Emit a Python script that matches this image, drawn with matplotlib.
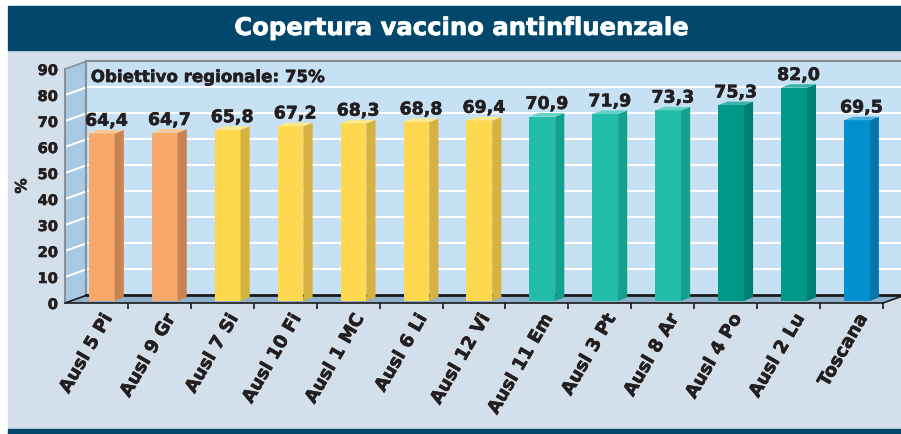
import numpy as np
import matplotlib
matplotlib.use('Agg')
import matplotlib.pyplot as plt
import matplotlib.patheffects as pe
from matplotlib.patches import Rectangle, Polygon

# dati
labels = ['Ausl 5 Pi', 'Ausl 9 Gr', 'Ausl 7 Si', 'Ausl 10 Fi', 'Ausl 1 MC', 'Ausl 6 Li',
          'Ausl 12 Vi', 'Ausl 11 Em', 'Ausl 3 Pt', 'Ausl 8 Ar', 'Ausl 4 Po', 'Ausl 2 Lu', 'Toscana']
values = [64.4, 64.7, 65.8, 67.2, 68.3, 68.8, 69.4, 70.9, 71.9, 73.3, 75.3, 82.0, 69.5]
groups = ['o', 'o', 'y', 'y', 'y', 'y', 'y', 't', 't', 't', 'd', 'd', 'b']
yticks = list(range(0, 100, 10))
title = 'Copertura vaccino antinfluenzale'
note = 'Obiettivo regionale: 75%'

# colori (fronte, lato, sopra)
palette = {
    'o': ('#f7a86b', '#c98452', '#fbc995'),
    'y': ('#fed94f', '#d6b340', '#fde78f'),
    't': ('#21bcaa', '#13a08f', '#66d2c5'),
    'd': ('#009889', '#007e74', '#3cb3a8'),
    'b': ('#0290d0', '#0276ad', '#45addf'),
}
plt.rcParams['font.family'] = ['DejaVu Sans']
TXT = '#231f20'
# tratto leggero per rendere il testo piu' pesante
heavy = [pe.withStroke(linewidth=0.4, foreground=TXT)]

W, H = 901, 434
fig = plt.figure(figsize=(W / 100, H / 100), dpi=100)
fig.patch.set_facecolor('white')

# sfondo pannello + bande scure
fig.patches.append(Rectangle((8 / W, 0), 1, (H - 50) / H, transform=fig.transFigure,
                             color='#d3dfea', zorder=-5))
fig.patches.append(Rectangle((8 / W, (H - 50) / H), 1, 44 / H, transform=fig.transFigure,
                             color='#02486c', zorder=-5))
fig.patches.append(Rectangle((8 / W, 0), 1, 5 / H, transform=fig.transFigure,
                             color='#02486c', zorder=-5))
fig.text(0.511, (H - 28) / H, title, color='white', fontsize=17.5, fontweight='bold',
         ha='center', va='center',
         path_effects=[pe.withStroke(linewidth=0.5, foreground='white')])

n = len(values)
ax = fig.add_axes([65 / W, 131 / H, 818 / W, 234 / H])
ax.set_xlim(-0.5, n - 0.5)
ax.set_ylim(0, 90)
ax.patch.set_alpha(0)

dx, dy = 0.335, 2.9   # profondita pareti
x0, x1 = -0.5, n - 0.5

# parete di fondo
ax.add_patch(Rectangle((x0 + dx, dy), n, 90, facecolor='#c6e0f4', edgecolor='none',
                       clip_on=False, zorder=1))
for v in yticks[1:-1]:
    ax.plot([x0 + dx, x1 + dx], [v + dy, v + dy], color='white', lw=1.5, clip_on=False, zorder=2)
    ax.plot([x0, x0 + dx], [v, v + dy], color='white', lw=1.5, clip_on=False, zorder=4)
ax.plot([x0 + dx, x1 + dx], [90 + dy, 90 + dy], color='#8a8f94', lw=1.5, clip_on=False, zorder=2)

# parete laterale
ax.add_patch(Polygon([(x0, 0), (x0 + dx, dy), (x0 + dx, 90 + dy), (x0, 90)],
                     facecolor='#a7c9e4', edgecolor='none', clip_on=False, zorder=3))
ax.plot([x0 + dx, x0 + dx], [dy, 90 + dy], color='#8a8f94', lw=1.5, clip_on=False, zorder=4)
ax.plot([x0, x0 + dx], [90, 90 + dy], color='#8a8f94', lw=1.2, clip_on=False, zorder=4)

# pavimento
ax.add_patch(Polygon([(x0, 0), (x1, 0), (x1 + dx, dy), (x0 + dx, dy)],
                     facecolor='#8fb0c9', edgecolor='none', clip_on=False, zorder=3))
ax.plot([x0 + dx, x1 + dx], [dy, dy], color='#1a1a1a', lw=2, clip_on=False, zorder=4)
ax.plot([x0, x0 + dx], [0, dy], color='#1a1a1a', lw=1.2, clip_on=False, zorder=4)
ax.plot([x1, x1 + dx], [0, dy], color='#1a1a1a', lw=1.2, clip_on=False, zorder=4)

# barre 3D
bw, bdx, bdy, by = 0.41, 0.145, 1.35, 0.8
for i, (v, g) in enumerate(zip(values, groups)):
    front, side, top = palette[g]
    xl = i - 0.12
    ax.add_patch(Rectangle((xl, by), bw, v, facecolor=front, edgecolor='none', zorder=5,
                           clip_on=False))
    ax.add_patch(Polygon([(xl + bw, by), (xl + bw + bdx, by + bdy), (xl + bw + bdx, by + v + bdy),
                          (xl + bw, by + v)], facecolor=side, edgecolor='none', zorder=5,
                         clip_on=False))
    ax.add_patch(Polygon([(xl, by + v), (xl + bdx, by + v + bdy), (xl + bw + bdx, by + v + bdy),
                          (xl + bw, by + v)], facecolor=top, edgecolor='none', zorder=5,
                         clip_on=False))
    ax.text(xl + (bw + bdx) / 2, by + v + bdy + 1.6, f'{v:.1f}'.replace('.', ','),
            ha='center', va='baseline', fontsize=12.5, fontweight='bold', color=TXT,
            zorder=6, clip_on=False, path_effects=heavy)

ax.text(-0.09, 85, note, ha='left', va='baseline', fontsize=12, fontweight='bold',
        color=TXT, zorder=6, path_effects=heavy)

# assi
for s in ['top', 'right']:
    ax.spines[s].set_visible(False)
ax.spines['left'].set_color('#8a8f94')
ax.spines['left'].set_linewidth(1.5)
ax.spines['bottom'].set_color('#1a1a1a')
ax.spines['bottom'].set_linewidth(1.2)
for s in ax.spines.values():
    s.set_zorder(7)

ax.set_yticks(yticks)
ax.set_yticklabels([str(t) for t in yticks], fontsize=10.5, fontweight='bold', color=TXT,
                   path_effects=heavy)
ax.tick_params(axis='y', length=0, pad=5)

ax.set_xticks(np.arange(n) + 0.06)
ax.set_xticklabels(labels, rotation=60, ha='right', va='top', rotation_mode='anchor',
                   fontsize=13, fontweight='bold', color=TXT, path_effects=heavy)
ax.tick_params(axis='x', which='major', length=0, pad=6)
ax.set_xticks(np.arange(1, n + 1) - 0.5, minor=True)
ax.tick_params(axis='x', which='minor', length=4, width=1.2, color='#1a1a1a', direction='out')

ax.set_ylabel('%', fontsize=11, fontweight='bold', color=TXT, labelpad=6, path_effects=heavy)

fig.savefig('out.png', dpi=100)
